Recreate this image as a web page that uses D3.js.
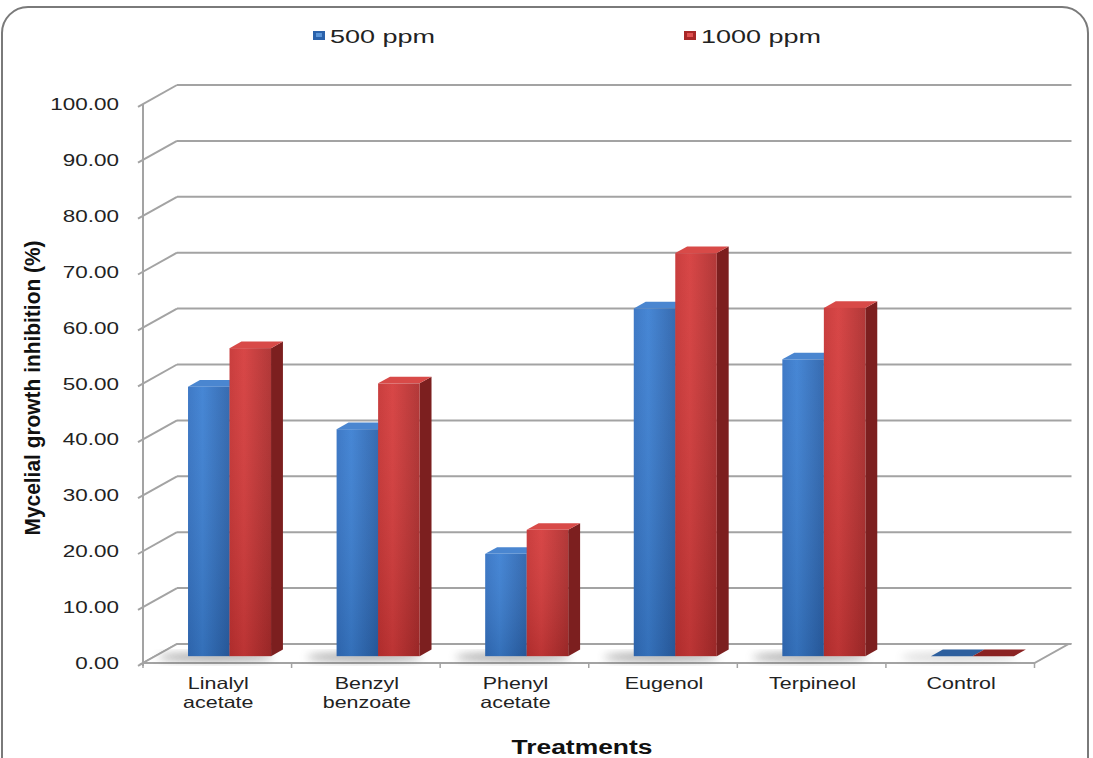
<!DOCTYPE html>
<html>
<head>
<meta charset="utf-8">
<script src="https://cdn.jsdelivr.net/npm/d3@7"></script>
<style>
  html, body { margin: 0; padding: 0; background: #fff; }
  svg { display: block; }
</style>
</head>
<body>
<svg id="chart" width="1093" height="758"></svg>
<script>
// ---- data ----
const categories = [["Linalyl", "acetate"], ["Benzyl", "benzoate"], ["Phenyl", "acetate"], ["Eugenol"], ["Terpineol"], ["Control"]];
const seriesNames = ["500 ppm", "1000 ppm"];
const values500 = [48.2, 40.6, 18.3, 62.2, 53.1, 0];
const values1000 = [55.1, 48.8, 22.6, 72.1, 62.3, 0];
const yTicks = [0, 10, 20, 30, 40, 50, 60, 70, 80, 90, 100];

// ---- layout ----
const svg = d3.select("#chart");
const defs = svg.append("defs");
const x0 = 143, x1 = 1034.5, yBottom = 663, yTop = 104;
const depthX = 34, depthY = -19;
const off = f => [depthX * f, depthY * f];

const x = d3.scaleBand().domain(d3.range(categories.length)).range([x0, x1]).padding(0);
const xs = d3.scaleBand().domain([0, 1]).range([0, x.bandwidth()]).paddingInner(0).paddingOuter(0.79);
const y = d3.scaleLinear().domain([0, 100]).range([yBottom, yTop]);

// horizontal stretch helper (reference text is horizontally widened)
function stretch(sel, k) {
  sel.each(function () {
    const w = this.getComputedTextLength();
    d3.select(this).attr("textLength", w * k).attr("lengthAdjust", "spacingAndGlyphs");
  });
}

// border
svg.append("rect").attr("x", 2).attr("y", 7).attr("width", 1086).attr("height", 780)
  .attr("rx", 26).attr("fill", "#fff").attr("stroke", "#7a7a7a").attr("stroke-width", 2);

// gradients
function grad(id, c1, c2, c3) {
  const g = defs.append("linearGradient").attr("id", id).attr("x1", 0).attr("x2", 1).attr("y1", 0).attr("y2", 0);
  g.append("stop").attr("offset", "0%").attr("stop-color", c1);
  g.append("stop").attr("offset", "35%").attr("stop-color", c2);
  g.append("stop").attr("offset", "100%").attr("stop-color", c3);
}
grad("gBlue", "#3371c2", "#3b7fd2", "#2b62ab");
grad("gRed", "#c63232", "#d53b3b", "#ad2c2c");
const vg = defs.append("linearGradient").attr("id", "vShade").attr("x1", 0).attr("x2", 0).attr("y1", 0).attr("y2", 1);
vg.append("stop").attr("offset", "0%").attr("stop-color", "#fff").attr("stop-opacity", 0.06);
vg.append("stop").attr("offset", "100%").attr("stop-color", "#000").attr("stop-opacity", 0.12);
defs.append("filter").attr("id", "blur").attr("x", "-50%").attr("y", "-50%").attr("width", "200%").attr("height", "200%")
  .append("feGaussianBlur").attr("stdDeviation", 4);

const gridColor = "#a3a3a3";
// back wall gridlines + diagonal connectors
const [bdx, bdy] = off(1);
const grid = svg.append("g");
yTicks.forEach(t => {
  const yy = y(t);
  grid.append("line").attr("x1", x0 + bdx).attr("x2", x1 + bdx + 3).attr("y1", yy + bdy).attr("y2", yy + bdy)
    .attr("stroke", gridColor).attr("stroke-width", 2);
  grid.append("line").attr("x1", x0 - 5).attr("y1", yy + 2.8).attr("x2", x0 + bdx).attr("y2", yy + bdy)
    .attr("stroke", gridColor).attr("stroke-width", 2);
});
// floor
grid.append("path")
  .attr("d", `M${x0},${yBottom} L${x1},${yBottom} L${x1 + bdx},${yBottom + bdy} L${x0 + bdx},${yBottom + bdy}Z`)
  .attr("fill", "#fff").attr("stroke", gridColor).attr("stroke-width", 2);
// front vertical axis
grid.append("line").attr("x1", x0).attr("x2", x0).attr("y1", yTop).attr("y2", yBottom + 3)
  .attr("stroke", gridColor).attr("stroke-width", 2);
// category tick marks
d3.range(categories.length + 1).forEach(i => {
  const xx = x0 + i * x.bandwidth();
  grid.append("line").attr("x1", xx).attr("x2", xx).attr("y1", yBottom).attr("y2", yBottom + 5)
    .attr("stroke", gridColor).attr("stroke-width", 1.5);
});

// bars
const fFront = 0.36, fBack = 0.71;
const [fdx, fdy] = off(fFront);
const [sdx, sdy] = off(fBack - fFront);
const series = [
  { vals: values500, front: "url(#gBlue)", top: "#4a86d0", side: "#234f8a", flat: "#2d5f9e" },
  { vals: values1000, front: "url(#gRed)", top: "#d84a48", side: "#7c1f1f", flat: "#8a2222" }
];
const barsG = svg.append("g");
// floor shadows
categories.forEach((c, i) => {
  const bx = x(i) + xs(0) + fdx;
  const w = xs.bandwidth() * 2;
  const base = y(0) + fdy;
  barsG.append("ellipse").attr("cx", bx + w / 2 - 14).attr("cy", base + 1).attr("rx", w / 2 + 16).attr("ry", 4)
    .attr("fill", "#555").attr("opacity", values500[i] > 0 ? 0.55 : 0.25).attr("filter", "url(#blur)");
});
categories.forEach((c, i) => {
  series.forEach((s, k) => {
    const v = s.vals[i];
    const bx = x(i) + xs(k) + fdx;
    const w = xs.bandwidth();
    const base = y(0) + fdy;
    const top = y(v) + fdy;
    const g = barsG.append("g");
    if (v > 0) {
      g.append("path").attr("d", `M${bx + w},${top} L${bx + w + sdx},${top + sdy} L${bx + w + sdx},${base + sdy} L${bx + w},${base}Z`)
        .attr("fill", s.side);
      g.append("path").attr("d", `M${bx},${top} L${bx + sdx},${top + sdy} L${bx + w + sdx},${top + sdy} L${bx + w},${top}Z`)
        .attr("fill", s.top);
      g.append("rect").attr("x", bx).attr("y", top).attr("width", w).attr("height", base - top).attr("fill", s.front);
      g.append("rect").attr("x", bx).attr("y", top).attr("width", w).attr("height", base - top).attr("fill", "url(#vShade)");
    } else {
      g.append("path").attr("d", `M${bx},${base} L${bx + sdx},${base + sdy} L${bx + w + sdx},${base + sdy} L${bx + w},${base}Z`)
        .attr("fill", s.flat);
    }
  });
});

// y tick labels
const fontMain = "'Liberation Sans', Arial, sans-serif";
svg.append("g").selectAll("text").data(yTicks).join("text")
  .attr("x", 119).attr("y", d => y(d) + 6)
  .attr("text-anchor", "end").attr("font-family", fontMain).attr("font-size", 16.5)
  .attr("fill", "#222")
  .text(d => d.toFixed(2))
  .call(stretch, 1.36);

// category labels
const catG = svg.append("g");
categories.forEach((lines, i) => {
  const cx = x(i) + x.bandwidth() / 2 + 1;
  lines.forEach((ln, j) => {
    catG.append("text").attr("x", cx).attr("y", 689 + j * 19)
      .attr("text-anchor", "middle").attr("font-family", fontMain).attr("font-size", 16.5)
      .attr("fill", "#222").text(ln);
  });
});
catG.selectAll("text").call(stretch, 1.3);

// axis titles
svg.append("text").attr("x", 582).attr("y", 754).attr("text-anchor", "middle")
  .attr("font-family", fontMain).attr("font-weight", "bold").attr("font-size", 20)
  .attr("fill", "#111").text("Treatments").call(stretch, 1.32);
svg.append("text").attr("transform", "translate(40,388) rotate(-90)").attr("text-anchor", "middle")
  .attr("font-family", "'Liberation Sans Narrow', 'Liberation Sans', Arial, sans-serif").attr("font-weight", "bold")
  .attr("font-size", 22).attr("textLength", 295).attr("lengthAdjust", "spacingAndGlyphs")
  .attr("fill", "#111").text("Mycelial growth  inhibition (%)");

// legend
const legendX = [313, 684];
const legColors = [["#5b95d8", "#2b62ab"], ["#e05050", "#a82828"]];
seriesNames.forEach((n, k) => {
  const lg = svg.append("g").attr("transform", `translate(${legendX[k]},31)`);
  lg.append("rect").attr("width", 12).attr("height", 9).attr("fill", legColors[k][1]);
  lg.append("rect").attr("x", 3).attr("y", 2).attr("width", 6).attr("height", 4).attr("fill", legColors[k][0]);
  lg.append("text").attr("x", 17).attr("y", 12).attr("font-family", fontMain).attr("font-size", 18)
    .attr("fill", "#222").text(n).call(stretch, 1.5);
});
</script>
</body>
</html>
